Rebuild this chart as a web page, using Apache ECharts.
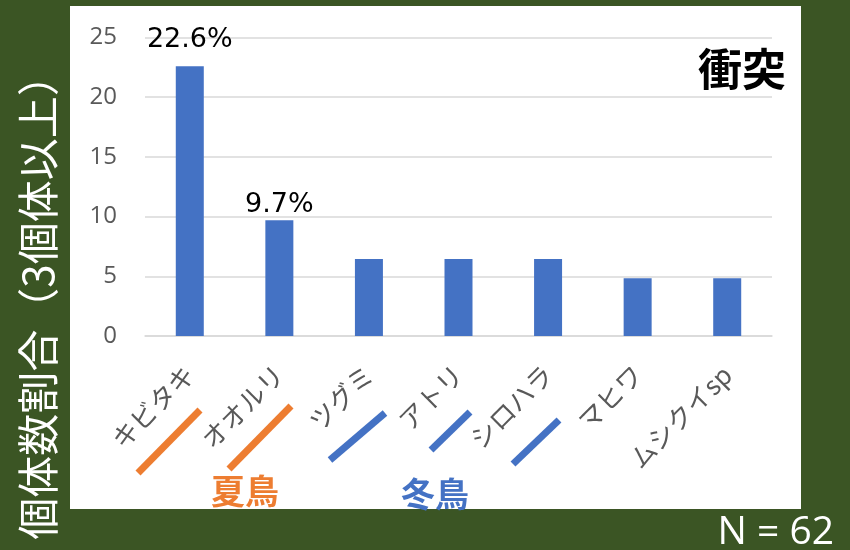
<!DOCTYPE html>
<html>
<head>
<meta charset="utf-8">
<script src="https://cdn.jsdelivr.net/npm/echarts@6/dist/echarts.min.js"></script>
<style>
  html, body { margin: 0; padding: 0; background: #3b5524; }
  #chart { width: 850px; height: 550px; }
</style>
</head>
<body>
<div id="chart"></div>
<script>
// Bird species involved in collisions (species with 3+ individuals)
const categories = ['キビタキ', 'オオルリ', 'ツグミ', 'アトリ', 'シロハラ', 'マヒワ', 'ムシクイsp'];
const shares = [22.6, 9.7, 6.45, 6.45, 6.45, 4.84, 4.84];   // % of individuals
const labelled = [true, true, false, false, false, false, false];
const labelGap = [13, 2, 0, 0, 0, 0, 0];
const yTicks = { min: 0, max: 25, interval: 5 };

const yTitle = '個体数割合（3個体以上）';
const panelTitle = '衝突';
const sampleNote = 'N = 62';
const summerLabel = '夏鳥';
const winterLabel = '冬鳥';

const JP = '"Noto Sans CJK JP", "Noto Sans", sans-serif';
const BLUE = '#4472c4';
const ORANGE = '#ed7d31';

const barData = shares.map((v, i) => ({
  value: v,
  label: {
    show: labelled[i],
    position: 'top',
    distance: labelGap[i],
    formatter: p => p.value.toFixed(1) + '%',
    color: '#000',
    fontSize: 27,
    fontFamily: '"DejaVu Sans", "Noto Sans", sans-serif'
  }
}));

const chart = echarts.init(document.getElementById('chart'), null, { renderer: 'canvas' });

function slash(x1, y1, x2, y2, color) {
  return {
    type: 'line',
    shape: { x1, y1, x2, y2 },
    style: { stroke: color, lineWidth: 7, lineCap: 'butt' },
    z: 10
  };
}

chart.setOption({
  backgroundColor: '#3b5524',
  animation: false,
  grid: { left: 145, right: 78, top: 37.5, bottom: 214 },
  xAxis: {
    type: 'category',
    data: categories,
    axisLine: { show: true, lineStyle: { color: '#d9d9d9', width: 1.5 } },
    axisTick: { show: false },
    axisLabel: {
      rotate: 45,
      margin: 34,
      color: '#595959',
      fontSize: 26,
      fontFamily: JP
    }
  },
  yAxis: {
    type: 'value',
    min: yTicks.min,
    max: yTicks.max,
    interval: yTicks.interval,
    axisLine: { show: false },
    axisTick: { show: false },
    splitLine: { lineStyle: { color: '#d9d9d9', width: 1.5 } },
    axisLabel: {
      margin: 28,
      color: '#595959',
      fontSize: 24,
      fontFamily: '"Open Sans", "Noto Sans", sans-serif'
    }
  },
  series: [{
    type: 'bar',
    data: barData,
    barWidth: 28,
    itemStyle: { color: BLUE },
    z: 3
  }],
  graphic: [
    { type: 'rect', shape: { x: 70, y: 6, width: 731, height: 503 }, style: { fill: '#ffffff' }, z: -10, silent: true },
    {
      type: 'text', x: 38, y: 297, rotation: Math.PI / 2,
      style: { text: yTitle, fill: '#ffffff', font: '42px ' + JP, textAlign: 'center', textVerticalAlign: 'middle' },
      z: 10
    },
    {
      type: 'text', x: 742, y: 69,
      style: { text: panelTitle, fill: '#000000', font: 'bold 44px ' + JP, textAlign: 'center', textVerticalAlign: 'middle' },
      z: 10
    },
    {
      type: 'text', x: 834, y: 533,
      style: { text: sampleNote, fill: '#ffffff', font: '39px "Open Sans", "Noto Sans", sans-serif', textAlign: 'right', textVerticalAlign: 'middle' },
      z: 10
    },
    {
      type: 'text', x: 245, y: 491,
      style: { text: summerLabel, fill: ORANGE, font: 'bold 34px ' + JP, textAlign: 'center', textVerticalAlign: 'middle' },
      z: 10
    },
    {
      type: 'text', x: 435, y: 494,
      style: { text: winterLabel, fill: BLUE, font: 'bold 34px ' + JP, textAlign: 'center', textVerticalAlign: 'middle' },
      z: 10
    },
    slash(138, 473, 200, 410, ORANGE),
    slash(229, 469, 291, 406, ORANGE),
    slash(330, 460, 385, 413, BLUE),
    slash(431, 450, 470, 412, BLUE),
    slash(513, 464, 559, 420, BLUE)
  ]
});
</script>
</body>
</html>
